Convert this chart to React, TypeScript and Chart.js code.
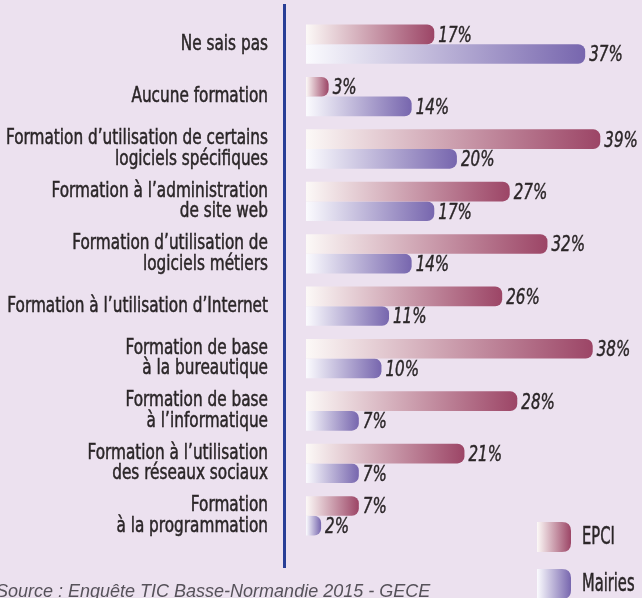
import React, { useEffect, useRef } from "react";
import { Chart, registerables } from "chart.js";

Chart.register(...registerables);

const categories: (string | string[])[] = [
  "Ne sais pas",
  "Aucune formation",
  ["Formation d’utilisation de certains", "logiciels spécifiques"],
  ["Formation à l’administration", "de site web"],
  ["Formation d’utilisation de", "logiciels métiers"],
  "Formation à l’utilisation d’Internet",
  ["Formation de base", "à la bureautique"],
  ["Formation de base", "à l’informatique"],
  ["Formation à l’utilisation", "des réseaux sociaux"],
  ["Formation", "à la programmation"],
];

const epciValues = [17, 3, 39, 27, 32, 26, 38, 28, 21, 7];
const mairiesValues = [37, 14, 20, 17, 14, 11, 10, 7, 7, 2];
const seriesNames = ["EPCI", "Mairies"];
const sourceText = "Source : Enquête TIC Basse-Normandie 2015 - GECE";

const BG = "#ece1ef";
const TEXT = "#2b2628";
const NARROW = '"DejaVu Sans Condensed", "Liberation Sans Narrow", sans-serif';
const EPCI_COLORS = ["#fcf9f7", "#9c4566"];
const MAIRIES_COLORS = ["#fbfbfe", "#7766ae"];

function barGradient(colors: string[]) {
  return (c: any) => {
    const chart = c.chart;
    const xs = chart.scales?.x;
    if (c.type !== "data" || !xs || !chart.chartArea) return colors[1];
    const x0 = xs.getPixelForValue(0);
    const x1 = xs.getPixelForValue(c.raw);
    const g = chart.ctx.createLinearGradient(x0, 0, Math.max(x1, x0 + 1), 0);
    g.addColorStop(0, colors[0]);
    g.addColorStop(1, colors[1]);
    return g;
  };
}

function roundRightRect(ctx: CanvasRenderingContext2D, x: number, y: number, w: number, h: number, r: number) {
  ctx.beginPath();
  ctx.moveTo(x, y);
  ctx.lineTo(x + w - r, y);
  ctx.quadraticCurveTo(x + w, y, x + w, y + r);
  ctx.lineTo(x + w, y + h - r);
  ctx.quadraticCurveTo(x + w, y + h, x + w - r, y + h);
  ctx.lineTo(x, y + h);
  ctx.closePath();
}

function squeezedText(ctx: CanvasRenderingContext2D, text: string, x: number, y: number, sx: number, stroke = 0) {
  ctx.save();
  ctx.translate(x, y);
  ctx.scale(sx, 1);
  ctx.fillText(text, 0, 0);
  if (stroke > 0) {
    ctx.lineWidth = stroke;
    ctx.strokeStyle = ctx.fillStyle as string;
    ctx.strokeText(text, 0, 0);
  }
  ctx.restore();
}

const decorPlugin = {
  id: "decor",
  beforeDraw(chart: any) {
    const ctx = chart.ctx;
    ctx.save();
    ctx.fillStyle = BG;
    ctx.fillRect(0, 0, chart.width, chart.height);
    ctx.restore();
  },
  afterDatasetsDraw(chart: any) {
    const ctx: CanvasRenderingContext2D = chart.ctx;
    const area = chart.chartArea;
    const ys = chart.scales.y;
    ctx.save();
    // vertical axis line
    ctx.strokeStyle = "#283e96";
    ctx.lineWidth = 3;
    ctx.beginPath();
    ctx.moveTo(area.left - 21.5, 4);
    ctx.lineTo(area.left - 21.5, 568);
    ctx.stroke();

    // category labels (positioned by the y scale)
    ctx.font = `21px ${NARROW}`;
    ctx.fillStyle = TEXT;
    ctx.textAlign = "right";
    ctx.textBaseline = "middle";
    const lh = 20.5;
    (chart.data.labels as any[]).forEach((lab, i) => {
      const lines = Array.isArray(lab) ? lab : [lab];
      const cy = ys.getPixelForTick(i);
      const y0 = cy - ((lines.length - 1) * lh) / 2;
      lines.forEach((ln: string, j: number) => {
        squeezedText(ctx, ln, area.left - 38, y0 + j * lh, 0.81, 0.5);
      });
    });

    // value labels
    ctx.font = `italic 21px ${NARROW}`;
    ctx.fillStyle = TEXT;
    ctx.textAlign = "left";
    ctx.textBaseline = "middle";
    chart.data.datasets.forEach((ds: any, di: number) => {
      const meta = chart.getDatasetMeta(di);
      meta.data.forEach((el: any, i: number) => {
        squeezedText(ctx, `${ds.data[i]}%`, el.x + 4, el.y + 2, 0.8, 0.4);
      });
    });

    // legend
    const swatches = [EPCI_COLORS, MAIRIES_COLORS];
    const legendY = [522, 569];
    seriesNames.forEach((name, i) => {
      const x = 537, y = legendY[i], w = 34, h = 30;
      const g = ctx.createLinearGradient(x, 0, x + w, 0);
      g.addColorStop(0, swatches[i][0]);
      g.addColorStop(1, swatches[i][1]);
      ctx.fillStyle = g;
      roundRightRect(ctx, x, y, w, h, 9);
      ctx.fill();
      ctx.fillStyle = TEXT;
      ctx.font = `24px ${NARROW}`;
      ctx.textAlign = "left";
      ctx.textBaseline = "middle";
      squeezedText(ctx, name, 582, y + 16, 0.68, 0.5);
    });

    // source
    ctx.font = 'italic 18px "Liberation Sans", Arial, sans-serif';
    ctx.fillStyle = "#56525a";
    ctx.textAlign = "left";
    ctx.textBaseline = "alphabetic";
    ctx.fillText(sourceText, -4, 597);
    ctx.restore();
  },
};

export default function App() {
  const ref = useRef<HTMLCanvasElement | null>(null);

  useEffect(() => {
    document.body.style.margin = "0";
    document.body.style.background = BG;
    if (!ref.current) return;
    const chart = new Chart(ref.current, {
      type: "bar",
      data: {
        labels: categories as any,
        datasets: [
          {
            label: seriesNames[0],
            data: epciValues,
            backgroundColor: barGradient(EPCI_COLORS) as any,
            borderWidth: 0,
            borderRadius: 7,
            borderSkipped: "start",
            categoryPercentage: 0.75,
            barPercentage: 1,
          },
          {
            label: seriesNames[1],
            data: mairiesValues,
            backgroundColor: barGradient(MAIRIES_COLORS) as any,
            borderWidth: 0,
            borderRadius: 7,
            borderSkipped: "start",
            categoryPercentage: 0.75,
            barPercentage: 1,
          },
        ],
      },
      options: {
        indexAxis: "y",
        responsive: false,
        animation: false,
        layout: { padding: { top: 18, bottom: 56, left: 0, right: 4 } },
        plugins: {
          legend: { display: false },
          tooltip: { enabled: false },
        },
        scales: {
          x: { display: false, min: 0, max: 44 },
          y: {
            grid: { display: false },
            border: { display: false },
            ticks: { display: false, autoSkip: false },
            afterFit: (scale: any) => {
              scale.width = 306;
              scale.paddingTop = 0;
              scale.paddingBottom = 0;
            },
          },
        },
      },
      plugins: [decorPlugin],
    });
    return () => chart.destroy();
  }, []);

  return (
    <div style={{ width: 642, height: 598, background: BG }}>
      <canvas ref={ref} width={642} height={598} style={{ display: "block" }} />
    </div>
  );
}
